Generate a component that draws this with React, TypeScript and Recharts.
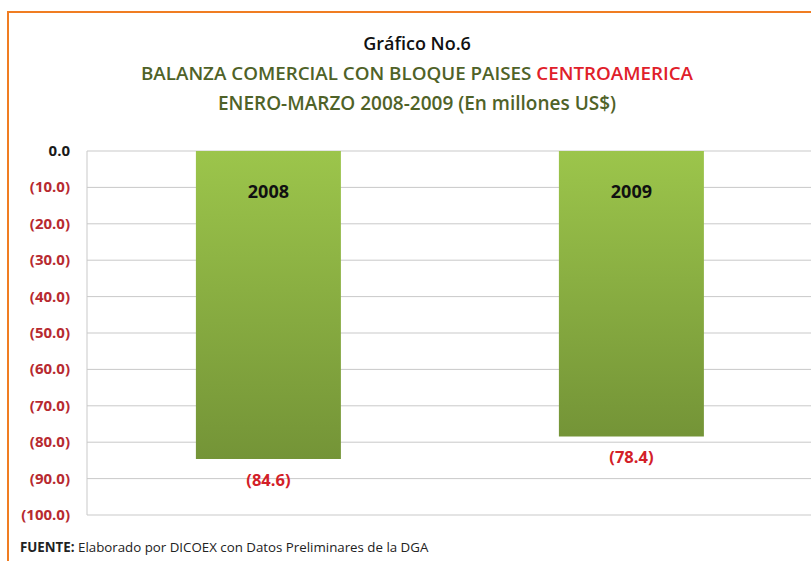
import React from 'react';
import { BarChart, Bar, XAxis, YAxis, CartesianGrid, LabelList } from 'recharts';

const years = ['2008', '2009'];
const balance = [-84.6, -78.4];
const yTicks = [0, -10, -20, -30, -40, -50, -60, -70, -80, -90, -100];

const data = years.map((year, i) => ({ year, value: balance[i] }));

const OLIVE = '#4f6228';
const RED = '#b72a30';
const FONT = '"Open Sans", sans-serif';

const fmt = (v: number) => (v === 0 ? '0.0' : `(${Math.abs(v).toFixed(1)})`);

const YTick = ({ x, y, payload }: any) => (
  <text
    x={x}
    y={y}
    dy={5}
    textAnchor="end"
    fontFamily={FONT}
    fontSize={15}
    fontWeight={700}
    fill={payload.value === 0 ? '#1a1a1a' : RED}
  >
    {fmt(payload.value)}
  </text>
);

const YearLabel = ({ x, y, width, height, value }: any) => {
  const top = Math.min(y, y + height);
  return (
    <text x={x + width / 2} y={top + 47} textAnchor="middle" fontFamily={FONT} fontSize={18} fontWeight={700} fill="#111">
      {value}
    </text>
  );
};

const ValueLabel = ({ x, y, width, height, value }: any) => {
  const bottom = Math.max(y, y + height);
  return (
    <text x={x + width / 2} y={bottom + 27} textAnchor="middle" fontFamily={FONT} fontSize={16.5} fontWeight={700} fill="#d32028">
      {fmt(value)}
    </text>
  );
};

export default function App() {
  return (
    <div style={{ position: 'absolute', left: 0, top: 0, width: 811, height: 561, overflow: 'hidden', background: '#fff', fontFamily: FONT }}>
      <div style={{ position: 'absolute', left: 7, top: 11, width: 840, height: 600, border: '2px solid #f07d22' }} />
      <div style={{ position: 'absolute', left: 0, top: 28, width: 834, textAlign: 'center', lineHeight: '30px', fontWeight: 600 }}>
        <div style={{ fontSize: 18, color: '#111' }}>Gráfico No.6</div>
        <div style={{ fontSize: 18.8, color: OLIVE }}>
          BALANZA COMERCIAL CON BLOQUE PAISES <span style={{ color: '#e0202a' }}>CENTROAMERICA</span>
        </div>
        <div style={{ fontSize: 19, color: OLIVE }}>ENERO-MARZO 2008-2009 (En millones US$)</div>
      </div>
      <div style={{ position: 'absolute', left: 0, top: 0 }}>
        <BarChart width={830} height={561} data={data} margin={{ top: 151, right: 17, bottom: 46, left: 0 }} barCategoryGap="30%">
          <defs>
            <linearGradient id="greenBar" x1="0" y1="0" x2="0" y2="1">
              <stop offset="0%" stopColor="#9cc54b" />
              <stop offset="100%" stopColor="#749437" />
            </linearGradient>
          </defs>
          <CartesianGrid vertical={false} stroke="#c9c9c9" />
          <XAxis dataKey="year" hide />
          <YAxis
            width={87}
            domain={[-100, 0]}
            ticks={yTicks}
            interval={0}
            tick={<YTick />}
            tickLine={false}
            tickMargin={11}
            axisLine={{ stroke: '#c9c9c9' }}
          />
          <Bar dataKey="value" fill="url(#greenBar)" isAnimationActive={false}>
            <LabelList dataKey="year" content={<YearLabel />} />
            <LabelList dataKey="value" content={<ValueLabel />} />
          </Bar>
        </BarChart>
      </div>
      <div style={{ position: 'absolute', left: 20, top: 538, fontSize: 13.3, color: '#222' }}>
        <b>FUENTE:</b> Elaborado por DICOEX con Datos Preliminares de la DGA
      </div>
    </div>
  );
}
